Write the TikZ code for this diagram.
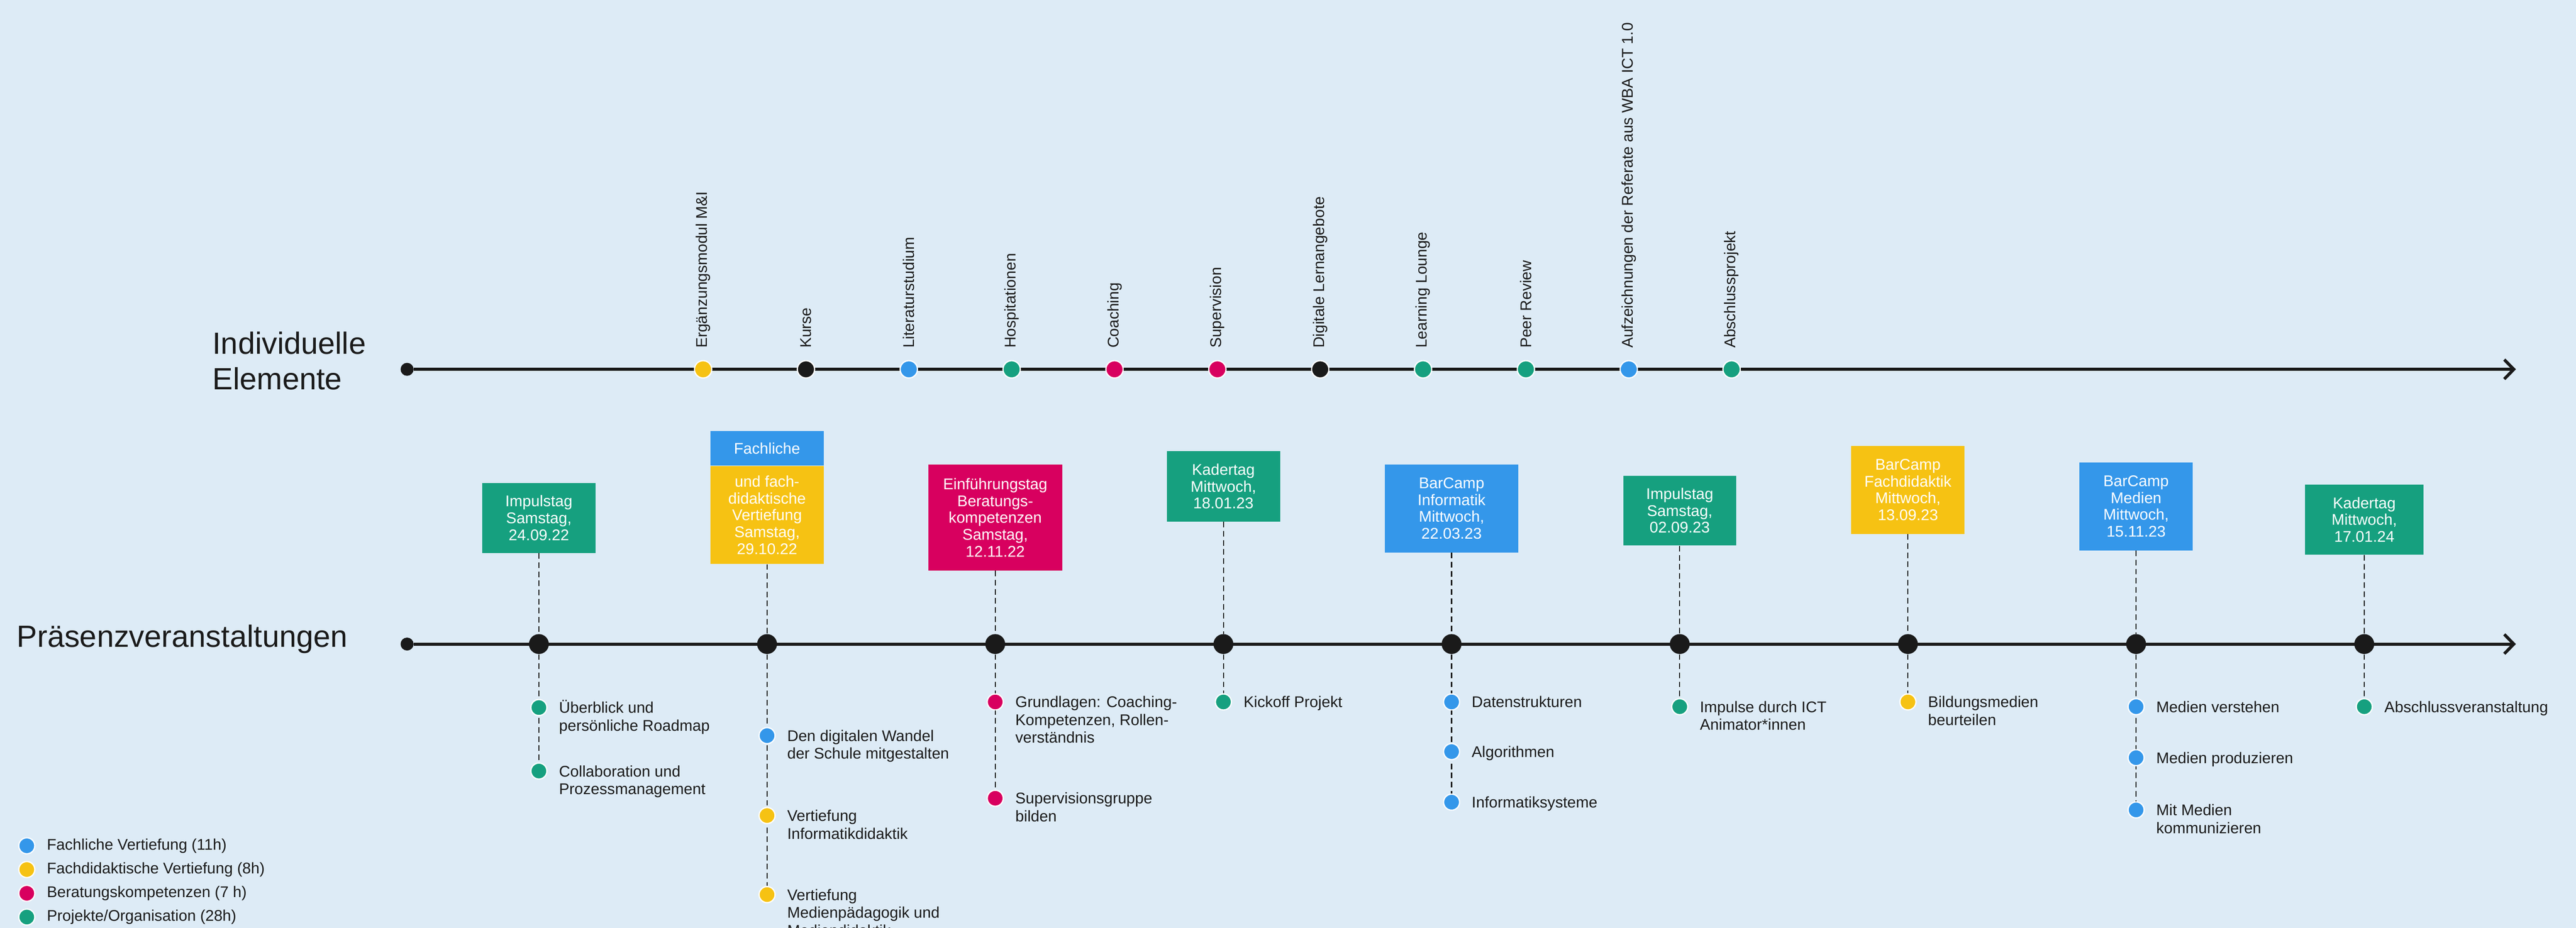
\documentclass[tikz,border=0pt]{standalone}
\usepackage{fontspec}
\setmainfont{Liberation Sans}
\usepackage{tikz}
\usetikzlibrary{arrows.meta}
\usetikzlibrary{positioning}
\usetikzlibrary{backgrounds}
\definecolor{bgblue}{HTML}{DDEBF6}
\definecolor{mgreen}{HTML}{16A07F}
\definecolor{mblue}{HTML}{3497EA}
\definecolor{myellow}{HTML}{F6C213}
\definecolor{mpink}{HTML}{D8005F}
\definecolor{mblack}{HTML}{1A1A1A}
\newcommand{\desctext}[1]{\begin{tabular}[t]{@{}l@{}}#1\end{tabular}}
\tikzset{
  axis/.style = {draw = mblack, line width = 2pt},
  dashline/.style = {draw = mblack, line width = 0.7pt, dash pattern = on 3.7pt off 2.3pt},
  startdot/.style = {fill = mblack, circle, inner sep = 0, minimum size = 0.3cm},
  topdot/.style = {draw = white, line width = 0.8pt, circle, inner sep = 0, minimum size = 0.4cm},
  eventdot/.style = {fill = mblack, circle, inner sep = 0, minimum size = 0.46cm},
  subdot/.style = {draw = white, line width = 0.8pt, circle, inner sep = 0, minimum size = 0.37cm},
  toplabel/.style = {rotate = 90, anchor = west, inner sep = 0, text = mblack, font = \fontsize{10.2}{12}\selectfont},
  evbox/.style = {inner sep = 0, align = center, text = white, font = \fontsize{10.2}{11.1}\selectfont},
  desc/.style = {inner sep = 0, anchor = base west, text = mblack, font = \fontsize{10.2}{11.7}\selectfont},
  legtext/.style = {inner sep = 0, text = mblack, font = \fontsize{10.2}{11.7}\selectfont},
  title/.style = {inner sep = 0, align = left, anchor = base west, text = mblack, font = \fontsize{20.2}{23.3}\selectfont}
}

\begin{document}
\begin{tikzpicture}
  \useasboundingbox (0, 0) rectangle (59.61, -21.48);
  \begin{scope}[on background layer]
    \fill [bgblue] (0, 0) rectangle (59.61, -21.48);
  \end{scope}

  \node [title] (indiv) at (4.91, -9.02) {Individuelle\\Elemente};
  \node [title] (praes) at (0.38, -14.98) {Präsenzveranstaltungen};

  \node [startdot] (i0) at (9.42, -8.55) {};
  \coordinate (iend) at (58.22, -8.55);
  \foreach \c [count = \i] in {myellow, mblack, mblue, mgreen, mpink, mpink, mblack, mgreen, mgreen, mblue, mgreen} {
    \node [topdot, fill = \c] (i\i) at ({16.27 + 2.38*(\i - 1)}, -8.55) {};
  }
  \foreach \t [count = \i] in {Ergänzungsmodul M\&I, Kurse, Literaturstudium, Hospitationen, Coaching, Supervision, Digitale Lernangebote, Learning Lounge, Peer Review, Aufzeichnungen der Referate aus WBA ICT 1.0, Abschlussprojekt} {
    \node [toplabel] (li\i) at ([yshift = 0.27cm]i\i.north) {\t};
  }

  \node [startdot] (p0) at (9.42, -14.91) {};
  \coordinate (pend) at (58.22, -14.91);
  \foreach \i in {1,...,9} {
    \node [eventdot] (p\i) at ({12.47 + 5.28*(\i - 1)}, -14.91) {};
  }

  \node [evbox, fill = mgreen, minimum width = 2.62cm, minimum height = 1.62cm] (b1) at (12.47, -11.99) {Impulstag\\Samstag,\\24.09.22};
  \node [evbox, fill = mblue, minimum width = 2.62cm, minimum height = 0.80cm] (b2a) at (17.75, -10.38) {Fachliche};
  \node [evbox, fill = myellow, minimum width = 2.62cm, minimum height = 2.26cm, below = 0cm of b2a] (b2) {und fach-\\didaktische\\Vertiefung\\Samstag,\\29.10.22};
  \node [evbox, fill = mpink, minimum width = 3.10cm, minimum height = 2.45cm] (b3) at (23.03, -11.98) {Einführungstag\\Beratungs-\\kompetenzen\\Samstag,\\12.11.22};
  \node [evbox, fill = mgreen, minimum width = 2.62cm, minimum height = 1.63cm] (b4) at (28.31, -11.26) {Kadertag\\Mittwoch,\\18.01.23};
  \node [evbox, fill = mblue, minimum width = 3.09cm, minimum height = 2.04cm] (b5) at (33.59, -11.77) {BarCamp\\Informatik\\Mittwoch,\\22.03.23};
  \node [evbox, fill = mgreen, minimum width = 2.62cm, minimum height = 1.62cm] (b6) at (38.87, -11.82) {Impulstag\\Samstag,\\02.09.23};
  \node [evbox, fill = myellow, minimum width = 2.62cm, minimum height = 2.04cm] (b7) at (44.15, -11.34) {BarCamp\\Fachdidaktik\\Mittwoch,\\13.09.23};
  \node [evbox, fill = mblue, minimum width = 2.62cm, minimum height = 2.04cm] (b8) at (49.43, -11.72) {BarCamp\\Medien\\Mittwoch,\\15.11.23};
  \node [evbox, fill = mgreen, minimum width = 2.75cm, minimum height = 1.62cm] (b9) at (54.71, -12.03) {Kadertag\\Mittwoch,\\17.01.24};

  \foreach \n/\e/\y/\c/\t in {
      s1a/1/16.38/mgreen/{Überblick und\\persönliche Roadmap},
      s1b/1/17.85/mgreen/{Collaboration und\\Prozessmanagement},
      s2a/2/17.03/mblue/{Den digitalen Wandel\\der Schule mitgestalten},
      s2b/2/18.88/myellow/{Vertiefung\\Informatikdidaktik},
      s2c/2/20.71/myellow/{Vertiefung\\Medienpädagogik und\\Mediendidaktik},
      s3a/3/16.25/mpink/{Grundlagen: Coaching-\\Kompetenzen, Rollen-\\verständnis},
      s3b/3/18.48/mpink/{Supervisionsgruppe\\bilden},
      s4a/4/16.25/mgreen/{Kickoff Projekt},
      s5a/5/16.25/mblue/{Datenstrukturen},
      s5b/5/17.40/mblue/{Algorithmen},
      s5c/5/18.57/mblue/{Informatiksysteme},
      s6a/6/16.36/mgreen/{Impulse durch ICT\\Animator*innen},
      s7a/7/16.25/myellow/{Bildungsmedien\\beurteilen},
      s8a/8/16.36/mblue/{Medien verstehen},
      s8b/8/17.54/mblue/{Medien produzieren},
      s8c/8/18.75/mblue/{Mit Medien\\kommunizieren},
      s9a/9/16.36/mgreen/{Abschlussveranstaltung}} {
    \node [subdot, fill = \c] (\n) at ({12.47 + 5.28*(\e - 1)}, -\y) {};
    \node [desc] (\n t) at ([xshift = 0.46cm, yshift = -0.13cm]\n.center) {\desctext{\t}};
  }

  \foreach \c/\t [count = \i] in {mblue/{Fachliche Vertiefung (11h)}, myellow/{Fachdidaktische Vertiefung (8h)}, mpink/{Beratungskompetenzen (7 h)}, mgreen/{Projekte/Organisation (28h)}} {
    \node [subdot, fill = \c] (k\i) at (0.62, {-19.58 - 0.55*(\i - 1)}) {};
    \node [legtext, right = 0.26cm of k\i] (kt\i) {\t};
  }

  \begin{scope}[on background layer]
    \draw [axis, -{Straight Barb[length = 6.3pt, width = 12.8pt]}] (i0) -- (iend);
    \draw [axis, -{Straight Barb[length = 6.3pt, width = 12.8pt]}] (p0) -- (pend);
    \foreach \i in {1,...,9} {
      \draw [dashline] (b\i.south) -- (p\i);
    }
    \foreach \a/\b in {p1/s1b, p2/s2c, p3/s3b, p4/s4a, p5/s5c, p6/s6a, p7/s7a, p8/s8c, p9/s9a} {
      \draw [dashline] (\a) -- (\b);
    }
  \end{scope}
\end{tikzpicture}
\end{document}
